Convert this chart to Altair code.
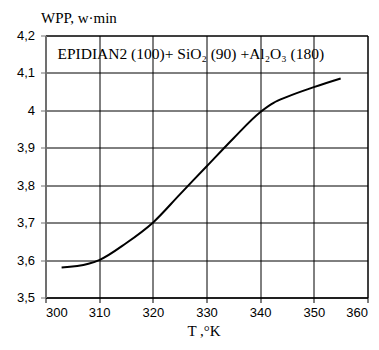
import altair as alt
import pandas as pd

T = [303, 308, 310, 315, 320, 325, 330, 335, 340, 342.5, 345, 350, 355]
WPP = [3.58, 3.59, 3.60, 3.645, 3.70, 3.775, 3.85, 3.925, 3.995, 4.02, 4.036, 4.062, 4.085]
x_ticks = [300, 310, 320, 330, 340, 350, 360]
y_ticks = [3.5, 3.6, 3.7, 3.8, 3.9, 4.0, 4.1, 4.2]
annotation = "EPIDIAN2 (100)+ SiO₂ (90) +Al₂O₃ (180)"
y_title = "WPP, w·min"
x_title = "T ,°K"

df = pd.DataFrame({"T": T, "WPP": WPP})

serif = "Liberation Serif"
sans = "Liberation Sans"

line = alt.Chart(df).mark_line(color="black", strokeWidth=2, interpolate="monotone").encode(
    x=alt.X("T:Q", scale=alt.Scale(domain=[300, 360], nice=False, zero=False),
            axis=alt.Axis(values=x_ticks, title=x_title, format="d", grid=True,
                          titleFont=serif, titleFontSize=15, titleFontWeight="normal",
                          titleColor="black", titleX=158, titleY=38,
                          titleAlign="center", titleBaseline="alphabetic",
                          labelFont=sans, labelFontSize=13, labelColor="black",
                          labelPadding=4, tickSize=5, tickColor="#000000", tickWidth=1,
                          domainColor="#000000", domainWidth=1,
                          gridColor="#000000", gridWidth=1, gridOpacity=1)),
    y=alt.Y("WPP:Q", scale=alt.Scale(domain=[3.5, 4.2], nice=False, zero=False),
            axis=alt.Axis(values=y_ticks, title=y_title, grid=True,
                          labelExpr="replace(format(datum.value, '.2~f'), '.', ',')",
                          titleFont=serif, titleFontSize=15, titleFontWeight="normal",
                          titleColor="black", titleAngle=0, titleX=-5, titleY=-13,
                          titleAlign="left", titleBaseline="alphabetic",
                          labelFont=sans, labelFontSize=13, labelColor="black",
                          labelPadding=6, tickSize=5, tickColor="#707070", tickWidth=1,
                          domainColor="#707070", domainWidth=2,
                          gridColor="#000000", gridWidth=1, gridOpacity=1)),
)

text = alt.Chart(pd.DataFrame({"t": [annotation]})).mark_text(
    font=serif, fontSize=15.5, color="black", align="left", baseline="alphabetic"
).encode(x=alt.value(12), y=alt.value(23), text="t:N")

chart = alt.layer(line, text).properties(
    width=322, height=262,
    autosize=alt.AutoSizeParams(type="none"),
    padding={"left": 37.5, "top": 27.5, "right": 3.5, "bottom": 44.5},
    background="white",
).configure_view(stroke="#000000", strokeWidth=1, fill="white")

chart.save("out.html", embed_options={"renderer": "svg", "actions": False})
